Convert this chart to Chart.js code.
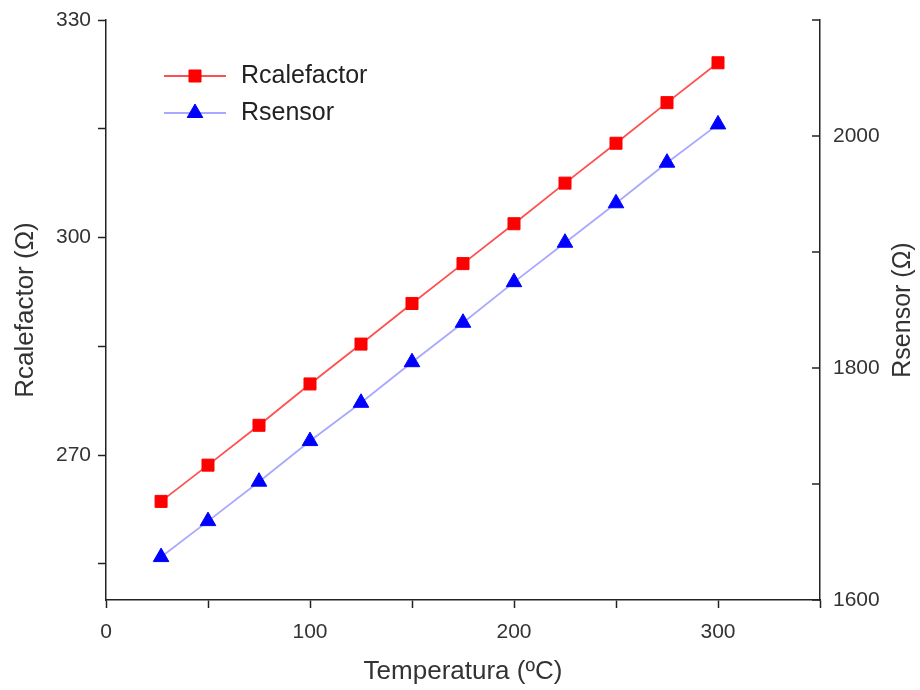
<!DOCTYPE html>
<html>
<head>
<meta charset="utf-8">
<script src="https://cdn.jsdelivr.net/npm/chart.js@4.4.1/dist/chart.umd.min.js"></script>
<style>
  body { margin: 0; background: #fff; }
  #wrap { width: 920px; height: 690px; }
</style>
</head>
<body>
<div id="wrap"><canvas id="myChart" width="920" height="690"></canvas></div>
<script>
// temperatura (ºC)
const temperatures = [27, 50, 75, 100, 125, 150, 175, 200, 225, 250, 275, 300];
// resistencias
const rCalefactor = [263.6, 268.6, 274.1, 279.8, 285.3, 290.9, 296.4, 301.9, 307.5, 313.0, 318.6, 324.1];
const rSensor = [1637, 1668, 1702, 1737, 1770, 1805, 1839, 1874, 1908, 1942, 1977, 2010];

// ticks de los ejes (mayores con etiqueta, menores sin ella)
const xMajor = [0, 100, 200, 300];
const xMinor = [50, 150, 250, 350];
const yLeftMajor = [270, 300, 330];
const yLeftMinor = [255, 285, 315];
const yRightMajor = [1600, 1800, 2000];
const yRightMinor = [1700, 1900, 2100];

const axisColor = '#222';
const textColor = '#333';
const fontFamily = '"Liberation Sans", Arial, sans-serif';

function setTicks(major, minor) {
    return function (scale) {
        scale.ticks = major.concat(minor).sort((a, b) => a - b).map(v => ({ value: v }));
    };
}
function labelOnly(major) {
    return function (value) {
        return major.includes(value) ? String(value) : '';
    };
}
function fitY(width) {
    return function (scale) {
        scale.width = width;
        scale.paddingTop = 0;
        scale.paddingBottom = 0;
    };
}

// leyenda dentro del area, ticks del eje derecho y su titulo
const extras = {
    id: 'extras',
    afterDraw(chart) {
        const c = chart.ctx;
        const ds = chart.data.datasets;
        const rows = [76, 113];
        c.save();
        ds.forEach((d, i) => {
            const y = rows[i];
            c.strokeStyle = d.borderColor;
            c.lineWidth = d.borderWidth;
            c.beginPath();
            c.moveTo(164, y);
            c.lineTo(226, y);
            c.stroke();
            c.fillStyle = d.pointBackgroundColor;
            c.strokeStyle = d.pointBorderColor;
            c.lineWidth = 1;
            Chart.helpers.drawPoint(c, { pointStyle: d.pointStyle, radius: d.pointRadius, borderWidth: 1 }, 195, y);
            c.fillStyle = '#222';
            c.font = '25px ' + fontFamily;
            c.textBaseline = 'middle';
            c.textAlign = 'left';
            c.fillText(d.label, 241, y);
        });
        const yr = chart.scales.y2;
        c.strokeStyle = axisColor;
        c.lineWidth = 1.5;
        yr.ticks.forEach(t => {
            const py = yr.getPixelForValue(t.value);
            c.beginPath();
            c.moveTo(yr.left - 8, py);
            c.lineTo(yr.left, py);
            c.stroke();
        });
        const area = chart.chartArea;
        c.translate(903, (area.top + area.bottom) / 2);
        c.rotate(-Math.PI / 2);
        c.fillStyle = textColor;
        c.font = '25px ' + fontFamily;
        c.textAlign = 'center';
        c.textBaseline = 'middle';
        c.fillText('Rsensor (\u03A9)', 0, 0);
        c.restore();
    }
};

const ctx = document.getElementById('myChart').getContext('2d');

new Chart(ctx, {
    type: 'line',
    data: {
        datasets: [{
            label: 'Rcalefactor',
            data: temperatures.map((t, i) => ({ x: t, y: rCalefactor[i] })),
            yAxisID: 'y',
            borderColor: '#ff5050',
            borderWidth: 1.8,
            pointStyle: 'rect',
            pointRadius: 8.5,
            pointBackgroundColor: '#ff0000',
            pointBorderColor: '#ff0000',
            pointBorderWidth: 1,
            tension: 0
        }, {
            label: 'Rsensor',
            data: temperatures.map((t, i) => ({ x: t, y: rSensor[i] })),
            yAxisID: 'y2',
            borderColor: '#a8a8ff',
            borderWidth: 1.8,
            pointStyle: 'triangle',
            pointRadius: 9,
            pointBackgroundColor: '#0000ff',
            pointBorderColor: '#0000ff',
            pointBorderWidth: 1,
            tension: 0
        }]
    },
    options: {
        responsive: false,
        animation: false,
        layout: { padding: { top: 20, left: 0, right: 0, bottom: 0 } },
        plugins: {
            legend: { display: false },
            tooltip: { enabled: false }
        },
        scales: {
            x: {
                type: 'linear',
                min: 0,
                max: 350,
                afterBuildTicks: setTicks(xMajor, xMinor),
                afterFit(scale) { scale.height = 90; },
                border: { color: axisColor, width: 1.5 },
                grid: { drawOnChartArea: false, tickLength: 8, tickColor: axisColor, tickWidth: 1.5 },
                ticks: {
                    autoSkip: false,
                    maxRotation: 0,
                    padding: 12,
                    color: textColor,
                    font: { family: fontFamily, size: 21 },
                    callback: labelOnly(xMajor)
                },
                title: {
                    display: true,
                    text: 'Temperatura (ºC)',
                    color: textColor,
                    padding: { top: 0, bottom: 3 },
                    font: { family: fontFamily, size: 26 }
                }
            },
            y: {
                type: 'linear',
                position: 'left',
                min: 250,
                max: 330,
                afterBuildTicks: setTicks(yLeftMajor, yLeftMinor),
                afterFit: fitY(106),
                border: { color: axisColor, width: 1.5 },
                grid: { drawOnChartArea: false, tickLength: 8, tickColor: axisColor, tickWidth: 1.5 },
                ticks: {
                    autoSkip: false,
                    padding: 7,
                    color: textColor,
                    font: { family: fontFamily, size: 21 },
                    callback: labelOnly(yLeftMajor)
                },
                title: {
                    display: true,
                    text: 'Rcalefactor (\u03A9)',
                    color: textColor,
                    padding: { top: 10, bottom: 0 },
                    font: { family: fontFamily, size: 26 }
                }
            },
            y2: {
                type: 'linear',
                position: 'right',
                min: 1600,
                max: 2100,
                afterBuildTicks: setTicks(yRightMajor, yRightMinor),
                afterFit: fitY(100),
                border: { color: axisColor, width: 1.5 },
                grid: { drawOnChartArea: false, drawTicks: false },
                ticks: {
                    autoSkip: false,
                    padding: 13,
                    color: textColor,
                    font: { family: fontFamily, size: 21 },
                    callback: labelOnly(yRightMajor)
                }
            }
        }
    },
    plugins: [extras]
});
</script>
</body>
</html>
